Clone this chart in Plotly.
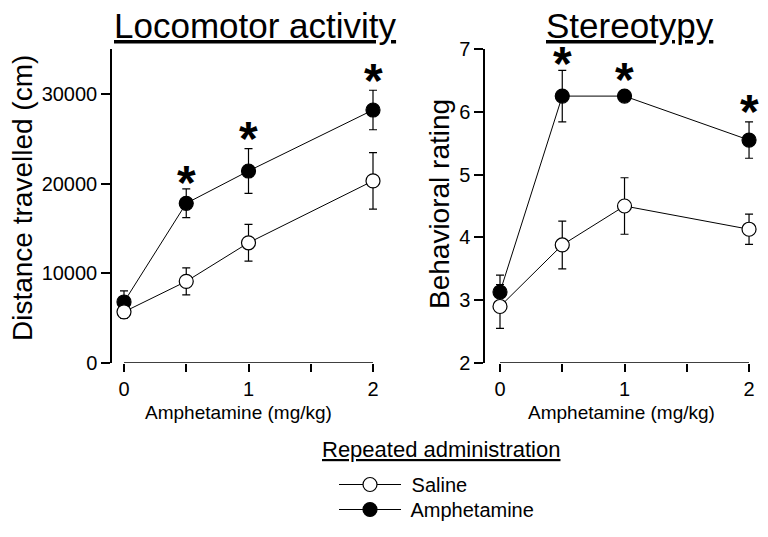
import plotly.graph_objects as go

# ---------------- data ----------------
doses = [0, 0.5, 1, 2]
loco_saline = [5700, 9100, 13400, 20300]
loco_saline_se = [700, 1500, 2050, 3150]
loco_amph = [6800, 17800, 21400, 28200]
loco_amph_se = [1230, 1600, 2500, 2200]

stereo_saline = [2.9, 3.88, 4.5, 4.13]
stereo_saline_se = [0.35, 0.38, 0.45, 0.24]
stereo_amph = [3.13, 6.25, 6.25, 5.55]
stereo_amph_se = [0.27, 0.41, 0.08, 0.29]

sig_doses = [0.5, 1, 2]
loco_sig_y = [20670, 25560, 32000]
stereo_sig_y = [6.85, 6.59, 6.08]

x_tickvals = [0, 0.5, 1, 1.5, 2]
x_ticktext = ["0", "", "1", "", "2"]
loco_yticks = [0, 10000, 20000, 30000]
stereo_yticks = [2, 3, 4, 5, 6, 7]

FONT = "Liberation Sans, Arial, sans-serif"
OFF = 8                      # default page body margin
W, H = 768 - 2 * OFF, 537 - 2 * OFF


def px(x):
    return (x - OFF) / W


def py(y):
    return 1 - (y - OFF) / H


fig = go.Figure()


def add_series(xa, ya, y, se, filled, name, showlegend, legend_id):
    fig.add_trace(go.Scatter(
        x=doses, y=y, xaxis=xa, yaxis=ya, name=" " + name,
        showlegend=showlegend, legend=legend_id,
        mode="lines+markers", cliponaxis=False,
        line=dict(color="black", width=1),
        marker=dict(size=14, color="black" if filled else "white",
                    line=dict(color="black", width=1.2)),
        error_y=dict(type="data", array=se, visible=True, color="black",
                     thickness=1.2, width=4),
    ))


# amphetamine first so saline circles sit on top (as in reference)
add_series("x", "y", loco_amph, loco_amph_se, True, "Amphetamine", True, "legend2")
add_series("x", "y", loco_saline, loco_saline_se, False, "Saline", True, "legend")
add_series("x2", "y2", stereo_amph, stereo_amph_se, True, "Amphetamine", False, "legend2")
add_series("x2", "y2", stereo_saline, stereo_saline_se, False, "Saline", False, "legend")

ydom = [py(363), py(49)]
axis_common = dict(showgrid=False, zeroline=False, ticks="outside",
                   tickcolor="black", tickwidth=1.5, automargin=False,
                   tickfont=dict(family=FONT, size=20, color="black"))

legend_common = dict(x=px(334), xanchor="left", itemwidth=62, borderwidth=0,
                     font=dict(family=FONT, size=20, color="black"),
                     bgcolor="rgba(0,0,0,0)")

fig.update_layout(
    width=W, height=H, margin=dict(l=0, r=0, t=0, b=0, autoexpand=False),
    paper_bgcolor="white", plot_bgcolor="white",
    font=dict(family=FONT, color="black"),
    xaxis=dict(domain=[px(112), px(385)], range=[-0.0964, 2.0964],
               tickvals=x_tickvals, ticktext=x_ticktext, ticklen=8,
               showline=False, anchor="y", **axis_common),
    yaxis=dict(domain=ydom, range=[0, 35000], tickvals=loco_yticks,
               tickformat="d", ticklen=9, showline=True, linecolor="black",
               linewidth=1.5, anchor="x", **axis_common),
    xaxis2=dict(domain=[px(485), px(760)], range=[-0.1205, 2.088],
                tickvals=x_tickvals, ticktext=x_ticktext, ticklen=8,
                showline=False, anchor="y2", **axis_common),
    yaxis2=dict(domain=ydom, range=[2, 7], tickvals=stereo_yticks,
                ticklen=9, showline=True, linecolor="black", linewidth=1.5,
                anchor="x2", **axis_common),
    legend=dict(y=py(465), yanchor="top", **legend_common),
    legend2=dict(y=0, yanchor="bottom", **legend_common),
)

# detached x axis lines spanning the dose range only
for xr, yr, ymin in [("x", "y", 0), ("x2", "y2", 2)]:
    fig.add_shape(type="line", xref=xr, yref=yr, x0=min(doses), x1=max(doses),
                  y0=ymin, y1=ymin, line=dict(color="black", width=1.5))

ann = []
# panel titles
ann.append(dict(text="<u>Locomotor activity</u>", x=px(256), y=py(26),
                font=dict(size=35)))
ann.append(dict(text="<u>Stereotypy</u>", x=px(630), y=py(26),
                font=dict(size=35)))
# y axis titles
ann.append(dict(text="Distance travelled (cm)", x=px(22), y=py(198),
                textangle=-90, font=dict(size=28)))
ann.append(dict(text="Behavioral rating", x=px(439), y=py(204),
                textangle=-90, font=dict(size=28)))
# x axis titles
ann.append(dict(text="Amphetamine (mg/kg)", x=px(238), y=py(412),
                font=dict(size=19)))
ann.append(dict(text="Amphetamine (mg/kg)", x=px(621), y=py(412),
                font=dict(size=19)))
# legend title
ann.append(dict(text="<u>Repeated administration</u>", x=px(441), y=py(449),
                font=dict(size=22)))
for a in ann:
    a.update(xref="paper", yref="paper", showarrow=False,
             xanchor="center", yanchor="middle")
    a["font"].update(family=FONT, color="black")

# significance asterisks
for xr, yr, ys in [("x", "y", loco_sig_y), ("x2", "y2", stereo_sig_y)]:
    for xv, yv in zip(sig_doses, ys):
        ann.append(dict(text="<b>*</b>", x=xv, y=yv, xref=xr, yref=yr,
                        showarrow=False, xanchor="center", yanchor="middle",
                        yshift=-5,
                        font=dict(family=FONT, size=48, color="black")))

fig.update_layout(annotations=ann)
fig.write_html("out.html")
